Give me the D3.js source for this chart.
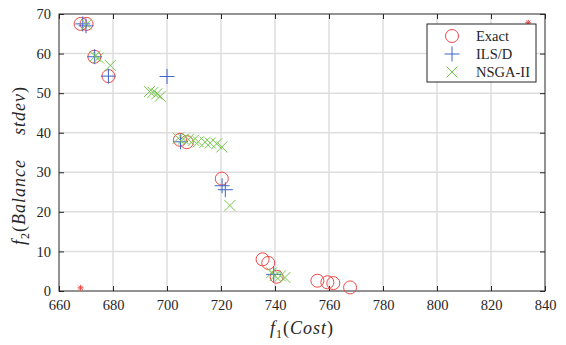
<!DOCTYPE html>
<html>
<head>
<meta charset="utf-8">
<script src="https://cdn.jsdelivr.net/npm/d3@7"></script>
<style>
  body { margin: 0; background: #fff; }
  text { font-family: "Liberation Serif", "Times New Roman", serif; fill: #262626; }
</style>
</head>
<body>
<div id="container"></div>
<script>
const width = 566;
const height = 345;
const margin = { top: 14, right: 21, bottom: 54, left: 59 };

// Pareto points: [f1 cost, f2 balance stdev]
const exact = [
  [668.0, 67.5], [670.2, 67.5], [673.1, 59.2], [678.3, 54.3],
  [704.8, 38.2], [707.3, 37.6], [720.3, 28.4],
  [735.4, 8.0], [737.5, 7.1], [740.6, 3.6],
  [755.7, 2.6], [759.4, 2.2], [761.6, 2.0], [767.8, 0.9]
];
const ilsd = [
  [668.8, 67.5], [670.0, 67.0], [673.2, 59.2], [678.3, 54.3],
  [700.0, 54.2], [705.0, 37.7], [720.4, 26.6], [721.6, 25.6],
  [739.5, 4.2]
];
const nsga = [
  [670.2, 67.4], [673.3, 59.3], [674.6, 58.9], [679.0, 57.0],
  [693.5, 50.4], [694.8, 50.2], [696.2, 49.8], [697.5, 49.2],
  [704.2, 38.6], [706.1, 38.4], [707.9, 38.3], [709.8, 38.1], [711.6, 37.7],
  [714.1, 37.6], [716.0, 37.4], [718.4, 37.2], [720.3, 36.4],
  [723.3, 21.6],
  [738.7, 4.6], [740.0, 3.9], [742.0, 3.8], [743.7, 3.4]
];
// ideal and nadir points (red asterisks)
const refPoints = [[668.0, 0.8], [833.8, 67.8]];

const xTicks = [660, 680, 700, 720, 740, 760, 780, 800, 820, 840];
const yTicks = [0, 10, 20, 30, 40, 50, 60, 70];
const legendNames = ["Exact", "ILS/D", "NSGA-II"];

const red = "#f04848";
const blue = "#3f63c8";
const green = "#74c64a";

const svg = d3.select("#container")
  .append("svg")
  .attr("width", width)
  .attr("height", height);

const x = d3.scaleLinear().domain([660, 840]).range([margin.left, width - margin.right]);
const y = d3.scaleLinear().domain([0, 70]).range([height - margin.bottom, margin.top]);

// grid
svg.append("g")
  .selectAll("line.gx")
  .data(xTicks.slice(1, -1))
  .join("line")
  .attr("x1", d => x(d)).attr("x2", d => x(d))
  .attr("y1", y(0)).attr("y2", y(70))
  .attr("stroke", "#dedede").attr("stroke-width", 1.5);

svg.append("g")
  .selectAll("line.gy")
  .data(yTicks.slice(1, -1))
  .join("line")
  .attr("x1", x(660)).attr("x2", x(840))
  .attr("y1", d => y(d)).attr("y2", d => y(d))
  .attr("stroke", "#dedede").attr("stroke-width", 1.5);

// axes with inward ticks on all sides
const tickLen = 5;
const axisStyle = g => {
  g.select(".domain").remove();
  g.selectAll(".tick line").attr("stroke", "#262626");
  g.selectAll(".tick text")
    .style("font-family", "Liberation Serif, serif")
    .style("font-size", "14.5px")
    .attr("fill", "#262626");
};

svg.append("g")
  .attr("transform", `translate(0,${y(0)})`)
  .call(d3.axisBottom(x).tickValues(xTicks).tickSize(-tickLen).tickPadding(9).tickFormat(d3.format("d")))
  .call(axisStyle);

svg.append("g")
  .attr("transform", `translate(0,${y(70)})`)
  .call(d3.axisTop(x).tickValues(xTicks).tickSize(-tickLen).tickFormat(""))
  .call(axisStyle);

svg.append("g")
  .attr("transform", `translate(${x(660)},0)`)
  .call(d3.axisLeft(y).tickValues(yTicks).tickSize(-tickLen).tickPadding(8).tickFormat(d3.format("d")))
  .call(axisStyle);

svg.append("g")
  .attr("transform", `translate(${x(840)},0)`)
  .call(d3.axisRight(y).tickValues(yTicks).tickSize(-tickLen).tickFormat(""))
  .call(axisStyle);

svg.append("rect")
  .attr("x", x(660)).attr("y", y(70))
  .attr("width", x(840) - x(660)).attr("height", y(0) - y(70))
  .attr("fill", "none").attr("stroke", "#262626").attr("stroke-width", 1);

// markers
const plusPath = s => `M${-s},0H${s}M0,${-s}V${s}`;
const crossPath = s => `M${-s},${-s}L${s},${s}M${-s},${s}L${s},${-s}`;
const starPath = s => {
  let p = "";
  for (let i = 0; i < 4; i++) {
    const a = i * Math.PI / 4;
    p += `M${-s * Math.cos(a)},${-s * Math.sin(a)}L${s * Math.cos(a)},${s * Math.sin(a)}`;
  }
  return p;
};

const marks = svg.append("g");

marks.selectAll("circle.exact")
  .data(exact)
  .join("circle")
  .attr("cx", d => x(d[0])).attr("cy", d => y(d[1]))
  .attr("r", 6.5)
  .attr("fill", "none").attr("stroke", red).attr("stroke-width", 1);

marks.selectAll("path.ils")
  .data(ilsd)
  .join("path")
  .attr("transform", d => `translate(${x(d[0])},${y(d[1])})`)
  .attr("d", plusPath(7.5))
  .attr("fill", "none").attr("stroke", blue).attr("stroke-width", 1);

marks.selectAll("path.nsga")
  .data(nsga)
  .join("path")
  .attr("transform", d => `translate(${x(d[0])},${y(d[1])})`)
  .attr("d", crossPath(5.5))
  .attr("fill", "none").attr("stroke", green).attr("stroke-width", 1);

marks.selectAll("path.ref")
  .data(refPoints)
  .join("path")
  .attr("transform", d => `translate(${x(d[0])},${y(d[1])})`)
  .attr("d", starPath(3))
  .attr("fill", "none").attr("stroke", red).attr("stroke-width", 1);

// legend
const lg = svg.append("g").attr("transform", "translate(427,24)");
lg.append("rect")
  .attr("width", 109).attr("height", 58)
  .attr("fill", "#fff").attr("stroke", "#262626").attr("stroke-width", 1);

const legendRows = lg.selectAll("g.row")
  .data(legendNames)
  .join("g")
  .attr("transform", (d, i) => `translate(25,${12 + i * 18})`);

legendRows.each(function (d, i) {
  const g = d3.select(this);
  if (i === 0) {
    g.append("circle").attr("r", 6.5).attr("fill", "none").attr("stroke", red);
  } else if (i === 1) {
    g.append("path").attr("d", plusPath(7.5)).attr("fill", "none").attr("stroke", blue);
  } else {
    g.append("path").attr("d", crossPath(5.5)).attr("fill", "none").attr("stroke", green);
  }
  g.append("text")
    .attr("x", 24).attr("y", 5)
    .style("font-size", "14.5px")
    .text(d);
});

// axis titles
const xTitle = svg.append("text")
  .attr("x", (x(660) + x(840)) / 2)
  .attr("y", 334)
  .attr("text-anchor", "middle")
  .style("font-size", "18px")
  .style("letter-spacing", "1px")
  .style("font-style", "italic");
xTitle.append("tspan").text("f");
xTitle.append("tspan").attr("dy", 4).style("font-size", "12px").style("font-style", "normal").text("1");
xTitle.append("tspan").attr("dy", -4).style("font-style", "normal").text("(");
xTitle.append("tspan").text("Cost");
xTitle.append("tspan").style("font-style", "normal").text(")");

const yTitle = svg.append("text")
  .attr("transform", `translate(25,${(y(0) + y(70)) / 2 + 13}) rotate(-90)`)
  .attr("text-anchor", "middle")
  .style("font-size", "18px")
  .style("letter-spacing", "1px")
  .style("font-style", "italic");
yTitle.append("tspan").text("f");
yTitle.append("tspan").attr("dy", 4).style("font-size", "12px").style("font-style", "normal").text("2");
yTitle.append("tspan").attr("dy", -4).style("font-style", "normal").text("(");
yTitle.append("tspan").text("Balance");
yTitle.append("tspan").attr("dx", 24).text("stdev");
yTitle.append("tspan").style("font-style", "normal").text(")");
</script>
</body>
</html>
